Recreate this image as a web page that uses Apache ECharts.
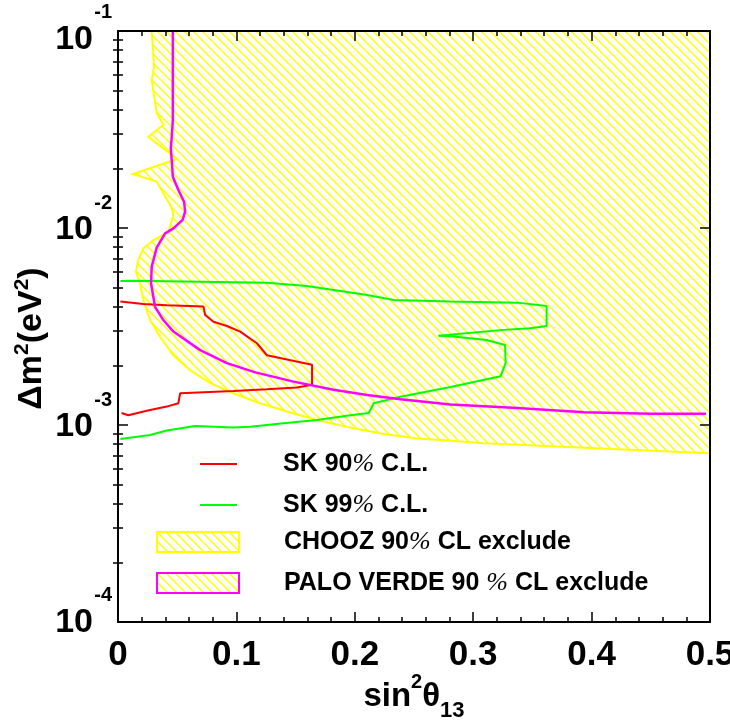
<!DOCTYPE html>
<html>
<head>
<meta charset="utf-8">
<script src="https://cdn.jsdelivr.net/npm/echarts@6/dist/echarts.min.js"></script>
<style>html,body{margin:0;padding:0;background:#fff}#c{width:730px;height:721px}</style>
</head>
<body>
<div id="c"></div>
<script>
// ---------- data ----------
const xTickValues = [0, 0.1, 0.2, 0.3, 0.4, 0.5];
const xTickLabels = ['0', '0.1', '0.2', '0.3', '0.4', '0.5'];
const yTickValues = [1e-4, 1e-3, 1e-2, 1e-1];
const yTickExps = ['-4', '-3', '-2', '-1'];
const yMinorValues = [2e-4,3e-4,4e-4,5e-4,6e-4,7e-4,8e-4,9e-4,
                      2e-3,3e-3,4e-3,5e-3,6e-3,7e-3,8e-3,9e-3,
                      2e-2,3e-2,4e-2,5e-2,6e-2,7e-2,8e-2,9e-2];

const seriesNames = ['SK 90% C.L.', 'SK 99% C.L.', 'CHOOZ 90% CL exclude', 'PALO VERDE 90 % CL exclude'];

const sk90X = [0.002, 0.0214, 0.0412, 0.0722, 0.0736, 0.0806, 0.092, 0.1032, 0.1173, 0.1258, 0.1427, 0.1639, 0.1639, 0.1512, 0.1258, 0.0975, 0.0525, 0.0510, 0.0412, 0.0243, 0.0087, 0.003];
const sk90Y = [0.00423, 0.00411, 0.00405, 0.00399, 0.00362, 0.00334, 0.00318, 0.00298, 0.00260, 0.00226, 0.00215, 0.00202, 0.00160, 0.00155, 0.00152, 0.00149, 0.00145, 0.00129, 0.00124, 0.00118, 0.00112, 0.00115];

const sk99X = [0.002, 0.0129, 0.0694, 0.1258, 0.1596, 0.1821, 0.2104, 0.2329, 0.2809, 0.3373, 0.362, 0.362, 0.348, 0.3255, 0.2705, 0.2832, 0.3114, 0.3269, 0.3274, 0.3232, 0.2809, 0.2386, 0.216, 0.2118, 0.1963, 0.168, 0.1398, 0.1117, 0.0975, 0.0651, 0.0412, 0.0271, 0.002];
const sk99Y = [0.00538, 0.00540, 0.00533, 0.00527, 0.00508, 0.00485, 0.00457, 0.00431, 0.00423, 0.00418, 0.00402, 0.00318, 0.00310, 0.00304, 0.00284, 0.00281, 0.00270, 0.00255, 0.00206, 0.00177, 0.00156, 0.00139, 0.00129, 0.00115, 0.00112, 0.00106, 0.00102, 0.000980, 0.000971, 0.000988, 0.000937, 0.000889, 0.000850];

const choozX = [0.0285, 0.0305, 0.0285, 0.0327, 0.0383, 0.0256, 0.0499, 0.0127, 0.0327, 0.0454, 0.0468, 0.0426, 0.0299, 0.0214, 0.0172, 0.0152, 0.0186, 0.0214, 0.0271, 0.0355, 0.0468, 0.0609, 0.0778, 0.0975, 0.120, 0.1427, 0.168, 0.196, 0.2245, 0.2527, 0.2809, 0.309, 0.3655, 0.4219, 0.5];
const choozY = [0.1, 0.0659, 0.0564, 0.0384, 0.0334, 0.0290, 0.0224, 0.0188, 0.0172, 0.01265, 0.01164, 0.00957, 0.00869, 0.00789, 0.00689, 0.00600, 0.00524, 0.00431, 0.00341, 0.00281, 0.00226, 0.00190, 0.00163, 0.00145, 0.00129, 0.00117, 0.00106, 0.00097, 0.00090, 0.000855, 0.000831, 0.000807, 0.000780, 0.000753, 0.000718];

const pvX = [0.0463, 0.0463, 0.0454, 0.0446, 0.0454, 0.0463, 0.0510, 0.0558, 0.0567, 0.0546, 0.0468, 0.0398, 0.0327, 0.0285, 0.0279, 0.0313, 0.0383, 0.0468, 0.0694, 0.0920, 0.116, 0.1483, 0.182, 0.2104, 0.2386, 0.2809, 0.3373, 0.3937, 0.450, 0.4966];
const pvY = [0.1, 0.0353, 0.0290, 0.0254, 0.0221, 0.0182, 0.0156, 0.0136, 0.0121, 0.0110, 0.00996, 0.00939, 0.00796, 0.00637, 0.00524, 0.00398, 0.00341, 0.00298, 0.00240, 0.00206, 0.00185, 0.00166, 0.00151, 0.00142, 0.00135, 0.00127, 0.00122, 0.00116, 0.00114, 0.00114];

// ---------- styling ----------
const SANS = '"Liberation Sans", Arial, sans-serif';
const YELLOW = '#ffff00';

function makeHatch() {
  const s = 9;
  const c = document.createElement('canvas');
  c.width = s; c.height = s;
  const g = c.getContext('2d');
  g.strokeStyle = YELLOW;
  g.lineWidth = 1.5;
  [-s, 0, s].forEach(function (o) {
    g.beginPath(); g.moveTo(o - 1, -1); g.lineTo(o + s + 1, s + 1); g.stroke();
  });
  return c;
}
const hatch = { image: makeHatch(), repeat: 'repeat' };

const pairs = (xs, ys) => xs.map((x, i) => [x, ys[i]]);

function yLabel(v) {
  const i = yTickValues.findIndex(t => Math.abs(t - v) / t < 1e-6);
  if (i < 0) return '';
  if (i === yTickValues.length - 1) return '{e1|' + yTickExps[i] + '}\n{b1|10}';
  if (i === 0) return '{e0|' + yTickExps[i] + '}\n{b0|10}';
  return '{e|' + yTickExps[i] + '}\n{b|10}';
}
function xLabel(v) {
  const i = xTickValues.findIndex(t => Math.abs(t - v) < 1e-9);
  return i < 0 ? '' : xTickLabels[i];
}
function legendFmt(name) {
  return name.replace('%', '{p|%}');
}

const frameLine = { show: true, onZero: false, lineStyle: { color: '#000', width: 2 } };
const tickStyle = { color: '#000', width: 1.5 };
const legendText = function (padLeft) {
  return {
    color: '#000', fontFamily: SANS, fontWeight: 'bold', fontSize: 25, lineHeight: 24, padding: [0, 0, 0, padLeft],
    rich: { p: { fontFamily: '"Liberation Serif", serif', fontStyle: 'italic', fontWeight: 'normal', fontSize: 26, lineHeight: 24 } }
  };
};
const expStyle = (lh) => ({ fontFamily: SANS, fontWeight: 'bold', fontSize: 20, lineHeight: lh, align: 'right' });
const baseStyle = (lh) => ({ fontFamily: SANS, fontWeight: 'bold', fontSize: 34, lineHeight: lh, align: 'right', padding: [0, 19, 0, 0] });

const chart = echarts.init(document.getElementById('c'), null, { renderer: 'canvas' });

const option = {
  animation: false,
  backgroundColor: '#fff',
  grid: { left: 118, right: 20, top: 31, bottom: 99, containLabel: false, outerBoundsMode: 'none' },
  xAxis: [
    {
      type: 'value', min: 0, max: 0.5, interval: 0.1, position: 'bottom', z: 10,
      axisLine: frameLine, splitLine: { show: false },
      axisTick: { show: true, inside: true, length: 10, lineStyle: tickStyle, customValues: xTickValues },
      minorTick: { show: true, splitNumber: 5, length: 5, lineStyle: tickStyle },
      axisLabel: {
        customValues: xTickValues, formatter: xLabel, margin: 16,
        color: '#000', fontFamily: SANS, fontWeight: 'bold', fontSize: 35
      },
      name: '{a|sin}{sup|2}{a|θ}{sub|13}', nameLocation: 'middle', nameGap: 50, nameMoveOverlap: false,
      nameTextStyle: {
        color: '#000',
        rich: {
          a: { fontFamily: SANS, fontWeight: 'bold', fontSize: 33, lineHeight: 50, verticalAlign: 'middle' },
          sup: { fontFamily: SANS, fontWeight: 'bold', fontSize: 20, lineHeight: 18, verticalAlign: 'top' },
          sub: { fontFamily: SANS, fontWeight: 'bold', fontSize: 22, lineHeight: 10, verticalAlign: 'bottom' }
        }
      }
    },
    {
      type: 'value', min: 0, max: 0.5, interval: 0.1, position: 'top', z: 10,
      axisLine: frameLine, splitLine: { show: false },
      axisTick: { show: true, inside: true, length: 10, lineStyle: tickStyle },
      minorTick: { show: true, splitNumber: 5, length: 5, lineStyle: tickStyle },
      axisLabel: { show: false }
    }
  ],
  yAxis: [
    {
      type: 'log', logBase: 10, min: 1e-4, max: 1e-1, position: 'left', z: 10,
      axisLine: frameLine, splitLine: { show: false },
      axisTick: { show: true, inside: true, length: 10, lineStyle: tickStyle, customValues: yTickValues },
      minorTick: { show: false },
      axisLabel: {
        customValues: yTickValues, formatter: yLabel, margin: 6, color: '#000',
        rich: {
          e: expStyle(4), b: baseStyle(50),
          e1: expStyle(18), b1: baseStyle(38),
          e0: expStyle(1), b0: baseStyle(54)
        }
      },
      name: '{a|Δm}{sup|2}{a|(eV}{sup|2}{a|)}', nameLocation: 'middle', nameRotate: 90, nameGap: 66, nameMoveOverlap: false,
      nameTextStyle: {
        color: '#000', padding: [0, 24, 0, 0],
        rich: {
          a: { fontFamily: SANS, fontWeight: 'bold', fontSize: 34, lineHeight: 40, verticalAlign: 'middle' },
          sup: { fontFamily: SANS, fontWeight: 'bold', fontSize: 21, lineHeight: 14, verticalAlign: 'top' }
        }
      }
    },
    {
      type: 'log', logBase: 10, min: 1e-4, max: 1e-1, position: 'left', z: 10,
      axisLine: { show: false }, splitLine: { show: false }, axisLabel: { show: false },
      axisTick: { show: true, inside: true, length: 5, lineStyle: tickStyle, customValues: yMinorValues }
    },
    {
      type: 'log', logBase: 10, min: 1e-4, max: 1e-1, position: 'right', z: 10,
      axisLine: frameLine, splitLine: { show: false }, axisLabel: { show: false },
      axisTick: { show: true, inside: true, length: 10, lineStyle: tickStyle, customValues: yTickValues }
    },
    {
      type: 'log', logBase: 10, min: 1e-4, max: 1e-1, position: 'right', z: 10,
      axisLine: { show: false }, splitLine: { show: false }, axisLabel: { show: false },
      axisTick: { show: true, inside: true, length: 5, lineStyle: tickStyle, customValues: yMinorValues }
    }
  ],
  legend: [
    {
      orient: 'vertical', left: 200, top: 451, padding: 0, itemGap: 15,
      itemWidth: 37, itemHeight: 2, selectedMode: false, formatter: legendFmt,
      textStyle: legendText(41),
      data: [
        { name: seriesNames[0], icon: 'rect', itemStyle: { color: '#ff0000', borderWidth: 0 } },
        { name: seriesNames[1], icon: 'rect', itemStyle: { color: '#00ff00', borderWidth: 0 } }
      ]
    },
    {
      orient: 'vertical', left: 156, top: 529, padding: 0, itemGap: 15,
      itemWidth: 82, itemHeight: 20, selectedMode: false, formatter: legendFmt,
      textStyle: legendText(40),
      data: [
        { name: seriesNames[2], icon: 'rect', itemStyle: { color: hatch, borderColor: YELLOW, borderWidth: 2 } },
        { name: seriesNames[3], icon: 'rect', itemStyle: { color: hatch, borderColor: '#ff00ff', borderWidth: 2 } }
      ]
    }
  ],
  series: [
    {
      name: seriesNames[0], type: 'line', xAxisIndex: 0, yAxisIndex: 0,
      data: pairs(sk90X, sk90Y), symbol: 'none', showSymbol: false,
      lineStyle: { color: '#ff0000', width: 2 }, itemStyle: { color: '#ff0000' }
    },
    {
      name: seriesNames[1], type: 'line', xAxisIndex: 0, yAxisIndex: 0,
      data: pairs(sk99X, sk99Y), symbol: 'none', showSymbol: false,
      lineStyle: { color: '#00ff00', width: 2 }, itemStyle: { color: '#00ff00' }
    },
    {
      name: seriesNames[2], type: 'custom', xAxisIndex: 0, yAxisIndex: 0,
      data: [[0.25, 0.01]], encode: { x: 0, y: 1 }, itemStyle: { color: YELLOW },
      renderItem: function (params, api) {
        if (params.dataIndex !== 0) return;
        const curve = choozX.map((x, i) => api.coord([x, choozY[i]]));
        const poly = curve.concat([api.coord([0.5, 0.1])]);
        return {
          type: 'group',
          children: [
            { type: 'polygon', shape: { points: poly }, style: { fill: hatch, stroke: null } },
            { type: 'polyline', shape: { points: curve }, style: { fill: null, stroke: YELLOW, lineWidth: 2 } }
          ]
        };
      }
    },
    {
      name: seriesNames[3], type: 'line', xAxisIndex: 0, yAxisIndex: 0,
      data: pairs(pvX, pvY), symbol: 'none', showSymbol: false,
      lineStyle: { color: '#ff00ff', width: 2.5 }, itemStyle: { color: '#ff00ff' }
    }
  ]
};
chart.setOption(option);
</script>
</body>
</html>
